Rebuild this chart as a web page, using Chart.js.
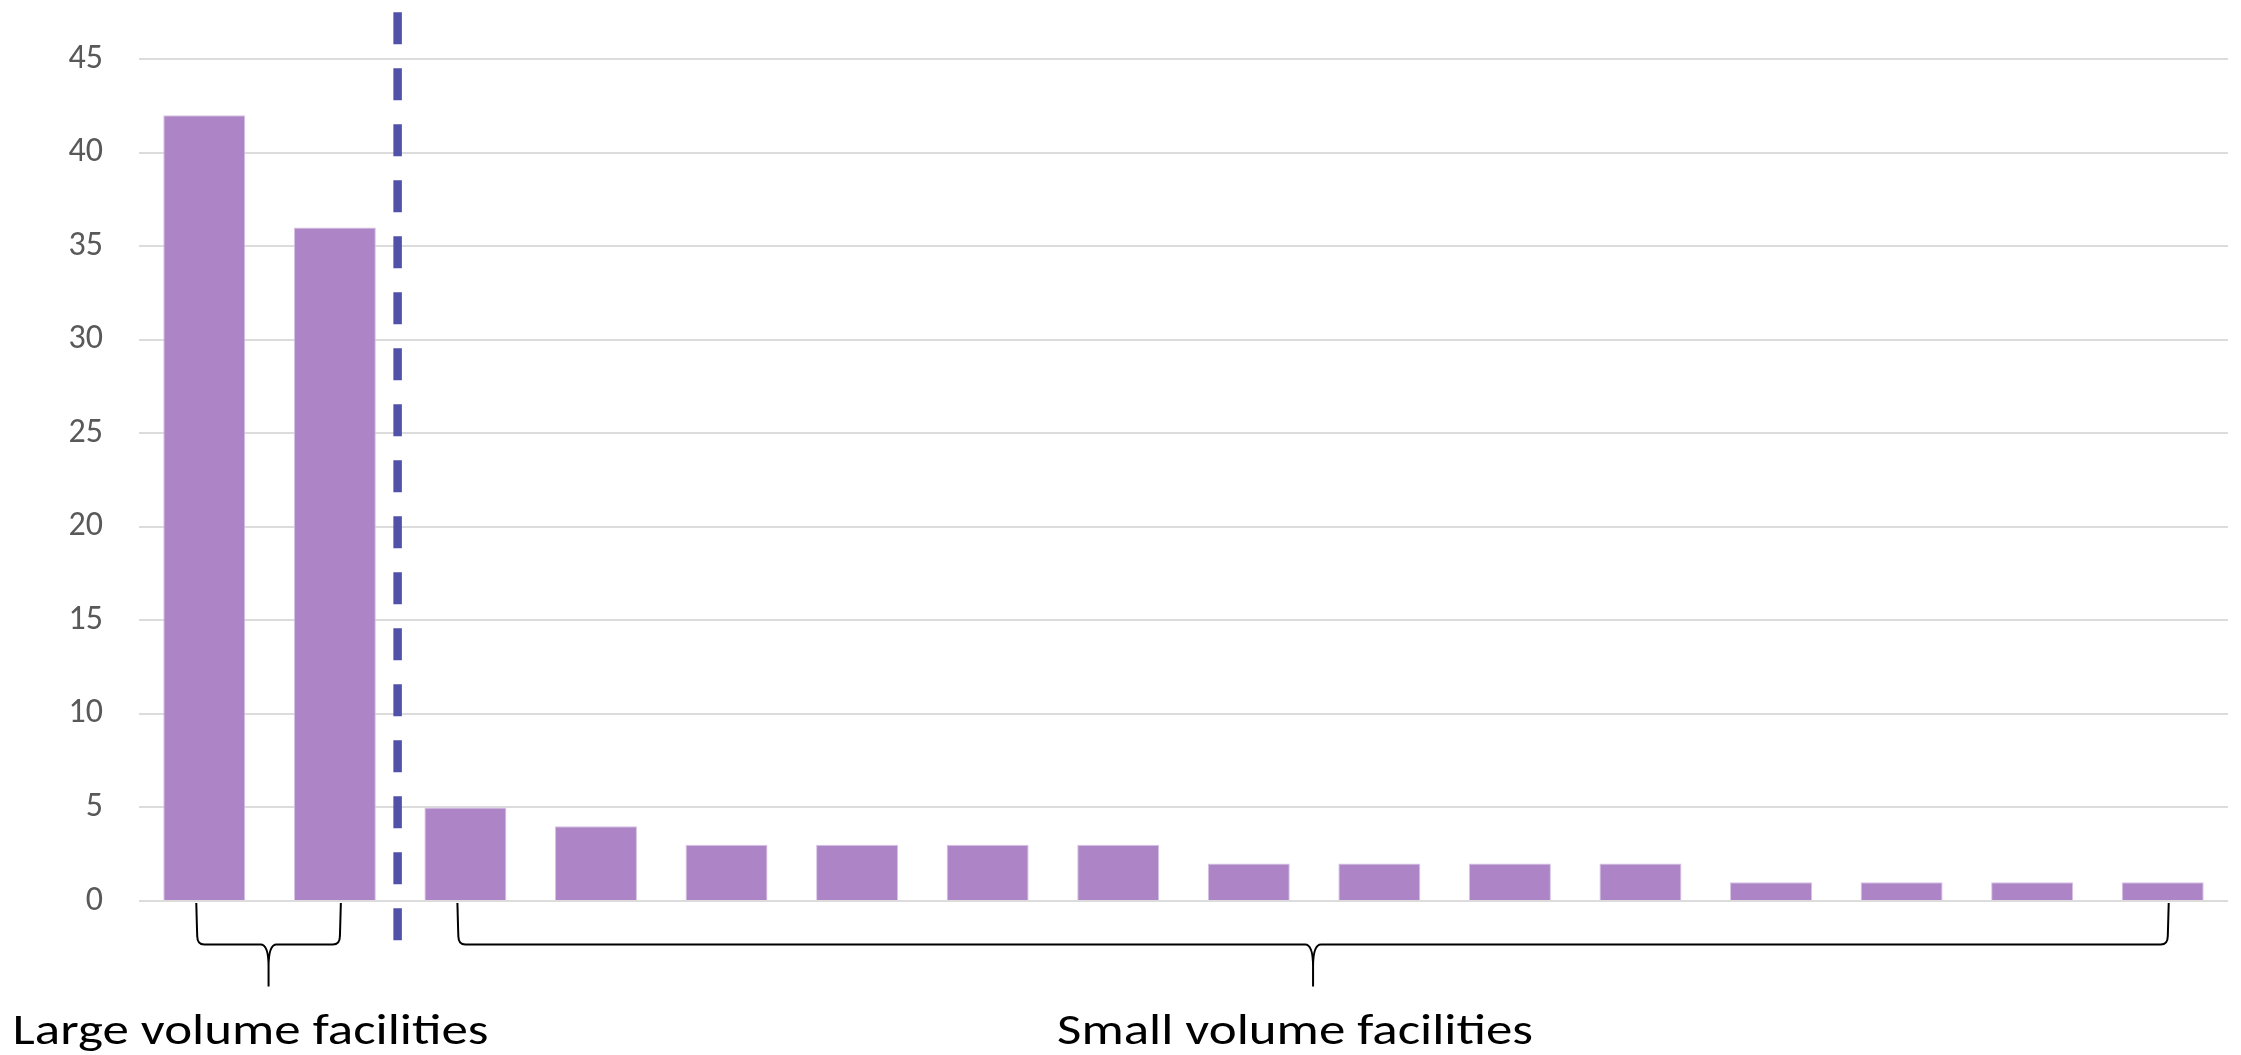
<!DOCTYPE html>
<html>
<head>
<meta charset="utf-8">
<script src="https://cdn.jsdelivr.net/npm/chart.js@4/dist/chart.umd.min.js"></script>
<style>
  html, body { margin: 0; padding: 0; background: #ffffff; }
  #wrap { position: relative; width: 2241px; height: 1055px; }
</style>
</head>
<body>
<div id="wrap"><canvas id="chart"></canvas></div>
<script>
// Facilities, ordered by volume
const facilities = ['Facility 1', 'Facility 2', 'Facility 3', 'Facility 4', 'Facility 5', 'Facility 6',
  'Facility 7', 'Facility 8', 'Facility 9', 'Facility 10', 'Facility 11', 'Facility 12',
  'Facility 13', 'Facility 14', 'Facility 15', 'Facility 16'];
const volumes = [42, 36, 5, 4, 3, 3, 3, 3, 2, 2, 2, 2, 1, 1, 1, 1];

// Value axis
const yMin = 0;
const yMax = 45;
const yStep = 5;

// Facility groups shown under the bars
const groupLabels = ['Large volume facilities', 'Small volume facilities'];
const groupFirst = [0, 2];
const groupLast = [1, 15];

// Dashed divider sits after this facility index
const dividerAfter = 1;

const FONT = 'Carlito, Lato, "Open Sans", sans-serif';

// Vertical dashed divider between the two groups
const dividerPlugin = {
  id: 'divider',
  afterDatasetsDraw(chart) {
    const x = chart.scales.x.getPixelForValue(dividerAfter + 0.5) - 2.5;
    const ctx = chart.ctx;
    ctx.save();
    ctx.strokeStyle = '#5151A9';
    ctx.lineWidth = 8.5;
    ctx.setLineDash([32, 24]);
    ctx.beginPath();
    ctx.moveTo(x, 12.3);
    ctx.lineTo(x, 940.5);
    ctx.stroke();
    ctx.restore();
  }
};

// Curly braces with group captions below the axis
const bracePlugin = {
  id: 'braces',
  afterDraw(chart) {
    const xs = chart.scales.x;
    const zero = chart.scales.y.getPixelForValue(0);
    const ctx = chart.ctx;
    const y0 = zero + 2;
    const y1 = zero + 43.5;
    const y2 = zero + 85.5;
    ctx.save();
    ctx.strokeStyle = '#000000';
    ctx.lineWidth = 2;
    ctx.lineJoin = 'round';
    for (let g = 0; g < groupLabels.length; g++) {
      const xl = xs.getPixelForValue(groupFirst[g]) - 8;
      const xr = xs.getPixelForValue(groupLast[g]) + 6;
      const xm = (xl + xr) / 2;
      ctx.beginPath();
      ctx.moveTo(xl, y0);
      ctx.quadraticCurveTo(xl + 1, y1 - 4, xl + 1, y1 - 8);
      ctx.quadraticCurveTo(xl + 1, y1, xl + 8, y1);
      ctx.lineTo(xm - 8, y1);
      ctx.quadraticCurveTo(xm, y1, xm, y1 + 22);
      ctx.lineTo(xm, y2);
      ctx.moveTo(xm, y1 + 22);
      ctx.quadraticCurveTo(xm, y1, xm + 8, y1);
      ctx.lineTo(xr - 8, y1);
      ctx.quadraticCurveTo(xr - 1, y1, xr - 1, y1 - 8);
      ctx.quadraticCurveTo(xr - 1, y1 - 4, xr, y0);
      ctx.stroke();

      // caption
      ctx.font = '44px ' + FONT;
      ctx.fillStyle = '#000000';
      ctx.textAlign = 'center';
      ctx.textBaseline = 'alphabetic';
      const w = ctx.measureText(groupLabels[g]).width;
      const sx = 476 / w;
      ctx.save();
      ctx.translate(xm - 18, y2 + 57.5);
      ctx.scale(sx, 1);
      ctx.fillText(groupLabels[g], 0, 0);
      ctx.restore();
    }
    ctx.restore();
  }
};

new Chart(document.getElementById('chart'), {
  type: 'bar',
  data: {
    labels: facilities,
    datasets: [{
      data: volumes,
      backgroundColor: '#AD84C6',
      borderColor: '#D6C3E4',
      borderWidth: 1,
      categoryPercentage: 1,
      barPercentage: 0.628
    }]
  },
  options: {
    responsive: true,
    maintainAspectRatio: false,
    animation: false,
    layout: { padding: { top: 59, bottom: 154, left: 0, right: 13 } },
    plugins: {
      legend: { display: false },
      tooltip: { enabled: false }
    },
    scales: {
      x: { display: false },
      y: {
        min: yMin,
        max: yMax,
        border: { display: false },
        grid: { color: '#DCDCDC', lineWidth: 2, drawTicks: false },
        ticks: {
          stepSize: yStep,
          padding: 36,
          color: '#595959',
          font: { family: FONT, size: 34 }
        },
        afterFit(scale) { scale.width = 139; }
      }
    }
  },
  plugins: [dividerPlugin, bracePlugin]
});
</script>
</body>
</html>
